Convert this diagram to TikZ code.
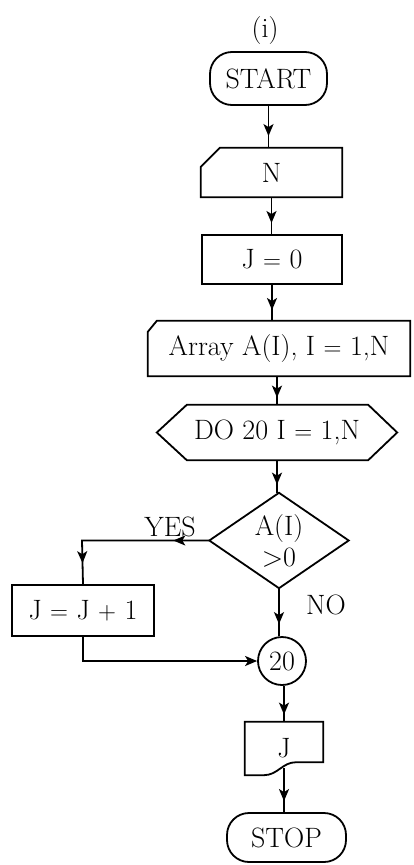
\documentclass[tikz,border=0pt]{standalone}
\usepackage{fontspec}
\usetikzlibrary{arrows.meta,decorations.markings,calc}
\begin{document}
\begin{tikzpicture}[x=1pt,y=-1pt,
  every node/.style={font=\fontsize{28}{31}\selectfont, inner sep=0pt},
  ln/.style={line width=1.8pt},
  tip/.style={-{Stealth[length=12pt,width=10pt,inset=3pt]}},
  flow/.style={ln, postaction={decorate}, decoration={markings,
     mark=at position #1 with {\arrow{Stealth[length=12pt,width=10pt,inset=3pt]}}}},
  flow/.default=0.8
]
\useasboundingbox (0,0) rectangle (414,865);

\node (title) at (265,31) {(i)};

\node[draw, ln, rounded corners=22pt, minimum width=117pt, minimum height=53pt] (start) at (268.5,78.5) {START};

\node[minimum width=141pt, minimum height=49pt] (n) at (271.5,172.5) {N};
\draw[ln] ([yshift=-19pt]n.north west) -- ([xshift=19pt]n.north west) -- (n.north east) -- (n.south east) -- (n.south west) -- cycle;

\node[draw, ln, minimum width=140pt, minimum height=49pt] (j0) at (272,259.5) {J $=$ 0};

\node[minimum width=262pt, minimum height=55pt] (arr) at (279,348.5) {Array A(I), I $=$ 1,N};
\draw[ln] ([yshift=-11pt]arr.north west) -- ([xshift=9pt]arr.north west) -- (arr.north east) -- (arr.south east) -- (arr.south west) -- cycle;

\node[minimum width=240pt, minimum height=55pt] (do) at (277,432.5) {DO 20 I $=$ 1,N};
\draw[ln] (do.west) -- ([xshift=30pt]do.north west) -- ([xshift=-29pt]do.north east) -- (do.east) -- ([xshift=-29pt]do.south east) -- ([xshift=30pt]do.south west) -- cycle;

\node[minimum width=139pt, minimum height=95pt, align=center] (dia) at (279,540.5) {A(I)\\>0};
\draw[ln] (dia.north) -- (dia.east) -- (dia.south) -- (dia.west) -- cycle;

\node[draw, ln, minimum width=142pt, minimum height=51pt] (jj) at (83,610.5) {J $=$ J $+$ 1};

\node[draw, ln, circle, minimum size=48pt] (c20) at (282,661) {20};

\node[minimum width=78pt, minimum height=53pt] (doc) at (284,748.5) {J};
\coordinate (wv) at (284,768);
\draw[ln] (doc.south west) -- (doc.north west) -- (doc.north east) -- ([yshift=13pt]doc.south east)
  -- ($(doc.south east)+(-27,-13)$) .. controls +(-14,0) and +(14,0) .. ($(doc.south west)+(19,0)$) -- cycle;

\node[draw, ln, rounded corners=22pt, minimum width=119pt, minimum height=49pt] (stop) at (286.5,837.5) {STOP};

% connectors
\draw[flow=0.72] (start.south) -- (start.south |- n.north);
\draw[flow=0.7] (n.south) -- (n.south |- j0.north);
\draw[flow=0.7] (j0.south) -- (j0.south |- arr.north);
\draw[flow=0.75] (arr.south -| do.north) -- (do.north);
\draw[flow=0.75] (do.south) -- (do.south |- dia.north);
\draw[flow=0.75] (dia.south) -- (dia.south |- c20.north);

\coordinate (yc) at (82,545);
\draw[ln, postaction={decorate}, decoration={markings,
   mark=at position 36pt with {\arrow{Stealth[length=12pt,width=10pt,inset=3pt]}},
   mark=at position 150pt with {\arrow{Stealth[length=12pt,width=10pt,inset=3pt]}}}]
  (dia.west) -- (dia.west -| yc) -- (jj.north);
\draw[ln, tip] (jj.south) |- (c20.west);

\draw[flow=0.8] (c20.south -| doc.north) -- (doc.north);
\draw[flow=0.75] (wv) -- (wv |- stop.north);

\node at (170,527) {YES};
\node at (326,605) {NO};
\end{tikzpicture}
\end{document}
